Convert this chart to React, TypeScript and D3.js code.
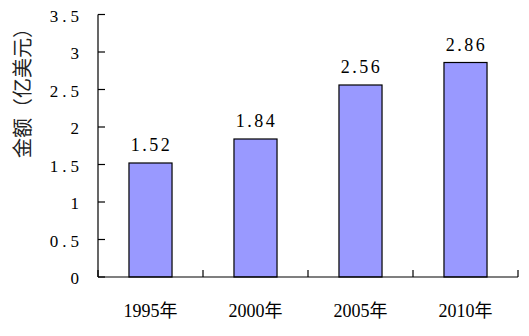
import React from "react";
import * as d3 from "d3";

const categories = ["1995年", "2000年", "2005年", "2010年"];
const values = [1.52, 1.84, 2.56, 2.86];
const valueLabels = ["1.52", "1.84", "2.56", "2.86"];
const yTicks = [0, 0.5, 1, 1.5, 2, 2.5, 3, 3.5];
const yTickLabels = ["0", "0.5", "1", "1.5", "2", "2.5", "3", "3.5"];
const yTitle = "金额（亿美元）";

export default function App() {
  const W = 529, H = 336;
  const left = 98, right = 518, top = 14.5, bottom = 277;
  const x = d3.scaleBand<string>().domain(categories).range([left, right]).paddingInner(0.59).paddingOuter(0.295);
  const y = d3.scaleLinear().domain([0, 3.5]).range([bottom, top]);
  const band = d3.scaleBand<string>().domain(categories).range([left, right]);
  const font = "Liberation Serif, DejaVu Serif, Noto Sans CJK SC, serif";
  const bounds = [...categories.map((c) => band(c)!), right];
  return (
    <svg width={W} height={H} style={{ position: "absolute", left: 0, top: 0, background: "#fff" }}>
      {categories.map((c, i) => (
        <rect key={c} x={x(c)!} y={y(values[i])} width={x.bandwidth()} height={bottom - y(values[i])}
          fill="#9999FF" stroke="#000" strokeWidth={1.2} />
      ))}
      <line x1={left} x2={left} y1={top} y2={bottom} stroke="#000" strokeWidth={1.2} />
      <line x1={left} x2={right} y1={bottom} y2={bottom} stroke="#000" strokeWidth={1.2} />
      {yTicks.map((t) => (
        <line key={t} x1={left} x2={left + 7} y1={y(t)} y2={y(t)} stroke="#000" strokeWidth={1.2} />
      ))}
      {bounds.map((b, i) => (
        <line key={i} x1={b} x2={b} y1={bottom} y2={bottom - 7} stroke="#000" strokeWidth={1.2} />
      ))}
      {yTicks.map((t, i) => (
        <text key={t} x={83} y={y(t) + 7} textAnchor="end" fontFamily={font} fontSize={17}
          style={{ letterSpacing: 4 }}>
          {yTickLabels[i]}
        </text>
      ))}
      {categories.map((c, i) => (
        <text key={c} x={x(c)! + x.bandwidth() / 2 + 1} y={y(values[i]) - 12} textAnchor="middle"
          fontFamily={font} fontSize={18} style={{ letterSpacing: 2.5 }}>
          {valueLabels[i]}
        </text>
      ))}
      {categories.map((c) => (
        <text key={c} x={x(c)! + x.bandwidth() / 2} y={317} textAnchor="middle" fontFamily={font} fontSize={18}>
          {c}
        </text>
      ))}
      <text transform={`translate(30,88) rotate(-90)`} textAnchor="middle" fontFamily={font} fontSize={20} fill="#222">
        {yTitle}
      </text>
    </svg>
  );
}
